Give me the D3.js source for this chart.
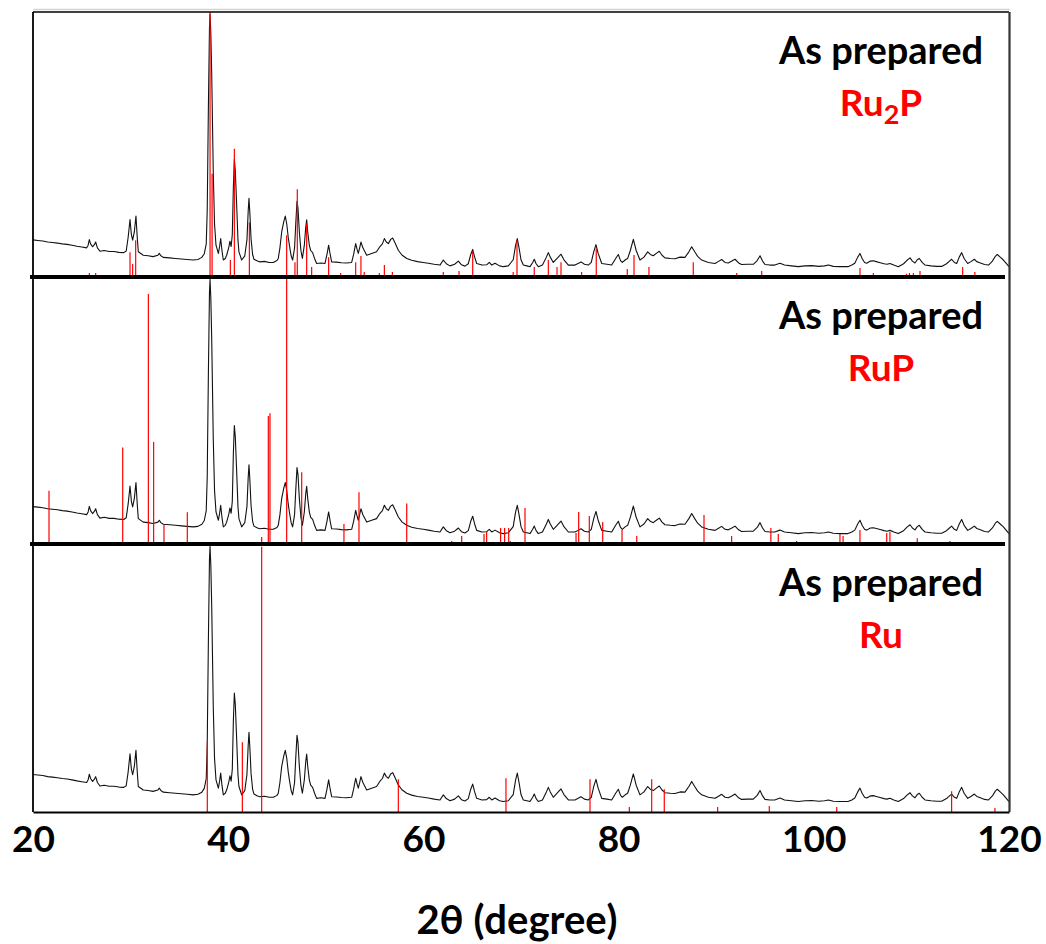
<!DOCTYPE html>
<html>
<head>
<meta charset="utf-8">
<script src="https://cdn.jsdelivr.net/npm/d3@7"></script>
<style>
  html, body { margin: 0; padding: 0; background: #fff; }
  svg { display: block; }
  text { font-family: Lato, "Open Sans", sans-serif; font-weight: 700; }
</style>
</head>
<body>
<svg id="chart" width="1046" height="944"></svg>
<script>
// ---------------- DATA ----------------
const xTicks = [20, 40, 60, 80, 100, 120];
const panelTitles = ["As prepared", "As prepared", "As prepared"];
const phaseNames = ["Ru2P", "RuP", "Ru"];
const axisTitle = "2θ (degree)";

// measured XRD pattern of the as-prepared sample: [2θ, relative intensity %]
const samplePattern = [
  [20.0,14.0],[20.5,13.8],[21.0,13.6],[21.5,13.2],[22.0,13.0],[22.5,12.8],[23.0,12.5],[23.5,12.3],
  [24.0,12.0],[24.5,11.6],[25.0,11.3],[25.5,11.0],[25.65,12.0],[25.77,14.1],[25.9,12.5],[26.1,11.4],
  [26.3,12.3],[26.42,13.2],[26.6,11.0],[26.86,9.7],[27.3,10.0],[27.8,9.6],[28.3,9.6],[28.8,9.3],
  [29.3,9.2],[29.55,9.8],[29.75,15],[29.94,21.7],[30.08,16],[30.21,13.9],[30.38,17],[30.55,23.0],
  [30.68,15],[30.79,9.5],[31.3,8.2],[31.8,8.0],[32.3,7.7],[32.8,8.2],[32.94,8.9],[33.1,8.0],
  [33.35,7.4],[34.0,7.2],[34.6,7.0],[35.2,6.8],[35.8,6.6],[36.4,6.4],[36.9,6.6],[37.3,7.4],
  [37.55,8.8],[37.75,12.5],[37.85,25],[37.97,64],[38.08,94],[38.14,99.1],[38.22,92],[38.31,76.9],
  [38.47,39.4],[38.6,20],[38.75,12.0],[38.99,8.9],[39.12,11.5],[39.23,14.5],[39.36,10],[39.5,6.4],
  [39.7,7],[39.84,8.2],[40.05,11],[40.18,13.5],[40.3,11.5],[40.42,16],[40.53,34],[40.63,44.4],
  [40.73,40],[40.87,27],[41.0,14],[41.1,9.5],[41.38,6.4],[41.7,8],[41.92,14],[42.05,25],
  [42.13,29.7],[42.22,24],[42.34,14.5],[42.5,8.5],[42.64,6.7],[43.0,6.0],[43.26,5.7],[43.7,5.9],
  [44.2,5.5],[44.62,5.5],[45.0,6.2],[45.13,7.0],[45.3,11],[45.48,17],[45.7,21],[45.85,23],
  [46.0,20],[46.15,15],[46.27,12],[46.45,8],[46.6,6.4],[46.8,11],[46.92,20],[47.05,28.6],
  [47.15,26],[47.29,17],[47.45,10],[47.6,7],[47.8,12],[47.95,19],[48.04,21.6],[48.15,17],
  [48.31,12],[48.45,10],[48.65,9.2],[48.85,7],[49.06,5.1],[49.5,5.3],[49.92,5.1],[50.12,8.5],
  [50.29,12],[50.45,8.5],[50.6,5.7],[51.1,5.6],[51.6,5.4],[52.1,5.3],[52.65,5.5],[52.85,8.5],
  [53.06,12.6],[53.2,10.5],[53.33,8.9],[53.47,11],[53.6,13.2],[53.8,11],[54.19,8.2],[54.7,8.9],
  [55.2,9.5],[55.55,11.5],[55.8,12.5],[56.0,14.5],[56.2,13.2],[56.41,12.6],[56.65,14.2],[56.85,14.7],
  [57.1,12.8],[57.43,10.1],[57.8,8.3],[58.29,7.0],[58.8,6.3],[59.4,5.8],[59.99,5.5],[60.5,5.2],
  [61.1,4.8],[61.7,4.5],[62.04,6.4],[62.35,5.0],[62.73,4.2],[63.2,4.8],[63.58,6.0],[63.9,4.6],
  [64.26,4.1],[64.6,5],[64.85,8.5],[65.05,10.4],[65.25,7.5],[65.46,5.1],[66.0,4.5],[66.48,4.6],
  [66.75,5.5],[67.0,4.5],[67.34,5.2],[67.8,4.2],[68.19,3.9],[68.7,4.2],[69.2,6.5],[69.45,12],
  [69.62,14.5],[69.8,11],[70.0,6.5],[70.24,4.5],[70.6,4.2],[70.92,3.9],[71.2,5.5],[71.36,6.7],
  [71.55,5],[71.77,3.9],[72.2,4.5],[72.6,7.5],[72.8,9.2],[73.0,7.5],[73.31,5.5],[73.7,7],
  [74.1,8.6],[74.4,6.5],[74.85,4.5],[75.53,4.5],[75.9,5.2],[76.15,5.7],[76.5,4.8],[76.9,4.5],
  [77.2,5.5],[77.45,9.5],[77.68,12.2],[77.9,9],[78.27,5.1],[78.8,4.8],[79.29,4.5],[79.7,7],
  [79.97,8.5],[80.2,6.2],[80.38,5.5],[80.7,6.5],[80.93,7],[81.2,10],[81.51,14.2],[81.8,10],
  [82.19,6.4],[82.6,7.5],[82.98,9.5],[83.25,8.5],[83.55,8],[83.9,9],[84.17,9.7],[84.45,8.2],
  [84.75,7.2],[85.3,7],[85.78,6.9],[86.3,7.5],[86.8,7.4],[87.2,9.5],[87.49,11.4],[87.8,9.5],
  [88.1,7.8],[88.51,6.4],[89.2,5.5],[89.88,5.1],[90.2,5.8],[90.56,6.6],[90.9,5.5],[91.24,5.3],
  [91.6,6],[91.93,6.7],[92.3,5.3],[92.6,4.7],[93.2,4.8],[93.8,4.8],[94.2,6.2],[94.49,8],
  [94.75,6.0],[95.0,4.7],[95.5,4.5],[96.0,4.5],[96.54,5.2],[97.0,4.5],[97.7,4.2],[98.41,3.9],
  [99.1,4.2],[99.8,4.3],[100.5,4.0],[101.1,4.2],[101.5,4.5],[102.0,4.0],[102.7,3.9],[103.5,3.9],
  [103.9,4.5],[104.2,5.2],[104.5,7.5],[104.73,8.9],[104.95,7],[105.2,5.5],[105.42,5.2],[105.8,6],
  [106.1,6.1],[106.4,5.8],[106.8,5.4],[107.2,5.0],[107.5,4.8],[107.8,5.1],[108.2,4.5],[108.66,3.9],
  [109.2,5.0],[109.55,6.3],[109.86,7.2],[110.1,6.0],[110.37,5.3],[110.6,6.5],[110.81,7.0],[111.1,5.5],
  [111.4,4.5],[112.0,4.2],[112.6,4.0],[113.1,4.0],[113.6,5.0],[113.9,6.0],[114.12,6.7],[114.4,5.5],
  [114.64,5.1],[114.9,7.5],[115.15,9.2],[115.4,7],[115.77,5.1],[116.1,5.8],[116.45,6.7],[116.7,5.8],
  [117.0,5.4],[117.5,4.7],[117.9,4.5],[118.3,6.0],[118.6,7.8],[118.8,8.5],[119.1,7.5],[119.4,6.5],
  [119.7,5.2],[120.0,3.9]
];

// reference patterns: [2θ, relative intensity %]
const ru2pRef = [
  [25.77,1.5],[26.42,1.5],[29.94,9.3],[30.21,4.9],[30.52,13.9],[32.94,0.8],[38.14,100],[38.35,39],
  [40.22,6.4],[40.63,48.4],[42.17,20.7],[45.99,15.8],[46.84,5.6],[47.08,33.1],[48.04,20.3],[48.55,3.8],
  [50.29,7.5],[51.52,1.5],[53.06,5.6],[53.6,7.9],[53.94,1.9],[55.48,1.5],[56.0,4.5],[56.82,1.9],
  [58.8,0.6],[60.85,0.6],[62.04,1.9],[63.65,2.3],[64.6,0.8],[65.05,9.4],[69.2,1.9],[69.59,13.9],
  [70.13,0.8],[71.36,3.8],[72.8,6.4],[73.69,3.8],[74.1,5.6],[75.77,0.8],[76.21,1.9],[77.71,10.8],
  [80.89,3.0],[81.58,8.3],[83.11,3.8],[86.8,0.8],[87.65,5.6],[88.0,0.8],[88.85,0.8],[92.1,1.5],
  [94.66,2.3],[104.73,3.4],[106.1,1.5],[106.89,0.8],[109.5,1.2],[109.8,1.5],[110.2,1.5],[110.88,2.3],
  [115.25,3.8],[116.5,1.9],[118.67,0.8]
];
const rupRef = [
  [21.64,19.9],[29.19,36.1],[31.82,93.6],[32.36,38.2],[33.42,7.1],[35.81,11.9],[43.43,2.6],[44.11,47.9],
  [44.28,49.0],[45.99,99.3],[47.53,26.9],[51.86,7.5],[53.4,19.4],[58.29,15.2],[62.9,1.1],[63.92,3.0],
  [66.21,3.7],[66.48,4.9],[67.91,6.0],[68.32,6.0],[68.74,6.0],[68.9,1.1],[70.41,13.5],[75.64,4.1],
  [75.91,12.0],[77.0,10.5],[78.37,8.2],[80.35,5.2],[81.86,3.0],[88.75,10.9],[91.58,3.0],[95.6,6.0],
  [96.36,3.7],[98.24,1.1],[102.68,3.7],[103.0,3.0],[104.73,5.2],[107.47,4.1],[107.8,4.5],[110.6,2.2],
  [113.95,1.1]
];
const ruRef = [
  [37.86,26],[41.45,26],[43.43,99],[57.43,12.2],[68.46,12.6],[77.07,12.2],[81.1,1.9],[83.39,12.2],
  [84.68,8.5],[90.15,1.9],[95.44,2.2],[102.35,1.9],[114.12,7.7],[118.56,1.5]
];
const references = [ru2pRef, rupRef, ruRef];

// ---------------- LAYOUT ----------------
const svg = d3.select("#chart");
const left = 33, right = 1009;
const panelEdges = [12, 277, 544, 812];

const x = d3.scaleLinear().domain([20, 120]).range([left, right]);

const panels = panelEdges.slice(0, 3).map((top, i) => ({ top, bottom: panelEdges[i + 1] }));

// faint line above plot
svg.append("line").attr("x1", left).attr("x2", right + 1).attr("y1", 9.5).attr("y2", 9.5)
  .attr("stroke", "#d4d4d4").attr("stroke-width", 1.5);

panels.forEach((p, i) => {
  const y = d3.scaleLinear().domain([0, 100]).range([p.bottom, p.top]);
  const g = svg.append("g");

  const line = d3.line().x(d => x(d[0])).y(d => y(d[1])).curve(d3.curveLinear);
  g.append("path").datum(samplePattern)
    .attr("d", line).attr("fill", "none").attr("stroke", "#111").attr("stroke-width", 1.1)
    .attr("stroke-linejoin", "round");

  g.selectAll("line.ref").data(references[i]).enter().append("line")
    .attr("class", "ref")
    .attr("x1", d => x(d[0])).attr("x2", d => x(d[0]))
    .attr("y1", p.bottom).attr("y2", d => y(d[1]))
    .attr("stroke", "#ff0000").attr("stroke-width", 1.2);

  // labels
  const cx = 881;
  g.append("text").attr("x", cx).attr("y", p.top + 52).attr("text-anchor", "middle")
    .attr("font-size", 38).attr("fill", "#000").text(panelTitles[i]);
  const lab = g.append("text").attr("x", cx).attr("y", p.top + 104).attr("text-anchor", "middle")
    .attr("font-size", 37).attr("fill", "#ff0000");
  const name = phaseNames[i];
  const m = name.match(/^([A-Za-z]+)(\d+)([A-Za-z]*)$/);
  if (m) {
    lab.append("tspan").text(m[1]);
    lab.append("tspan").attr("font-size", 27).attr("dy", 8).text(m[2]);
    lab.append("tspan").attr("dy", -8).text(m[3]);
  } else {
    lab.text(name);
  }
});

// frame
svg.append("line").attr("x1", left).attr("x2", right).attr("y1", 12).attr("y2", 12)
  .attr("stroke", "#000").attr("stroke-width", 1.5);
svg.append("line").attr("x1", left).attr("x2", left).attr("y1", 12).attr("y2", 812)
  .attr("stroke", "#000").attr("stroke-width", 1.8);
svg.append("line").attr("x1", right + 0.5).attr("x2", right + 0.5).attr("y1", 12).attr("y2", 812)
  .attr("stroke", "#333").attr("stroke-width", 2.2);
[277, 544].forEach(yy => {
  svg.append("line").attr("x1", 30).attr("x2", 1005).attr("y1", yy).attr("y2", yy)
    .attr("stroke", "#000").attr("stroke-width", 4);
});

// x axis
const axis = d3.axisBottom(x).tickValues(xTicks).tickSize(0).tickPadding(0).tickFormat(d3.format("d"));
const ax = svg.append("g").attr("transform", "translate(0,812)").call(axis);
ax.select(".domain").attr("stroke", "#000").attr("stroke-width", 2);
ax.selectAll("text").attr("font-size", 37).attr("fill", "#000")
  .attr("font-family", "Lato, sans-serif").attr("font-weight", 700)
  .attr("dy", null).attr("y", 40);

svg.append("text").attr("x", 517).attr("y", 934).attr("text-anchor", "middle")
  .attr("font-size", 40).attr("fill", "#000").text(axisTitle);
</script>
</body>
</html>
